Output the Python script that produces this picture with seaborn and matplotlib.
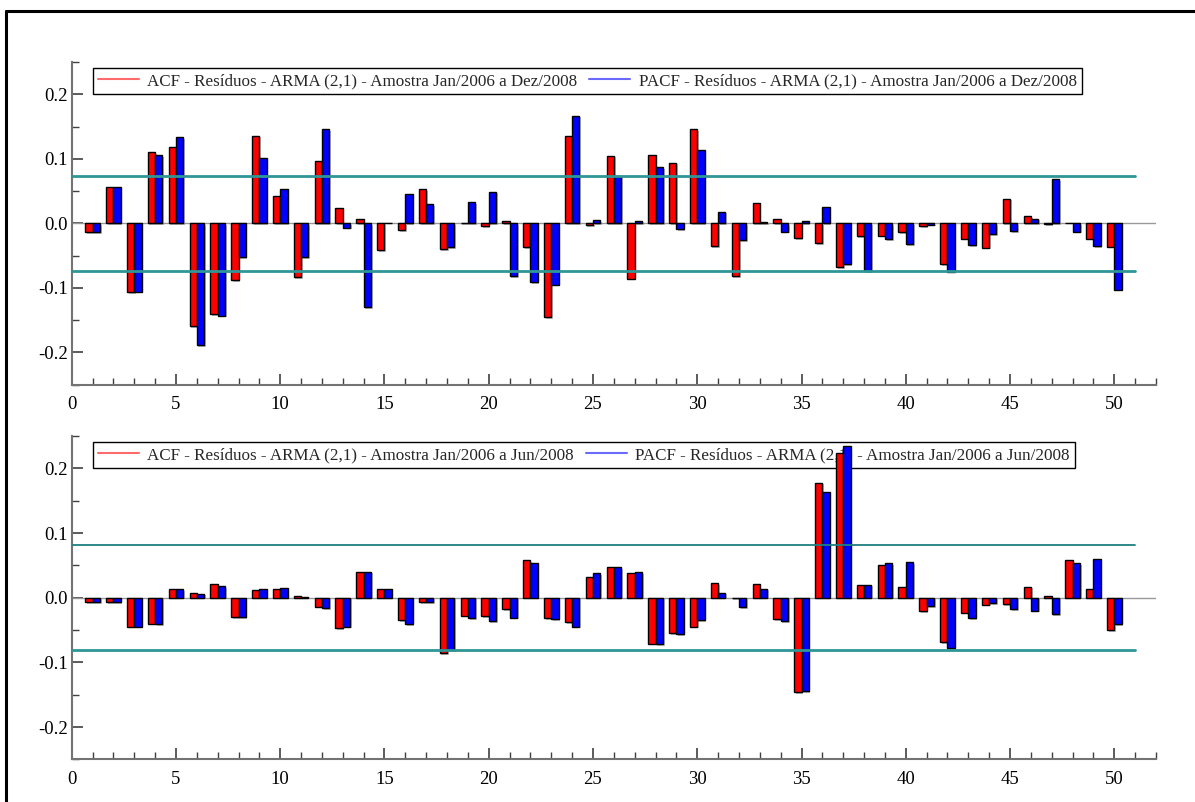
import numpy as np
import pandas as pd
import matplotlib
matplotlib.use("Agg")
import matplotlib.pyplot as plt
import matplotlib.patheffects as pe
from matplotlib.lines import Line2D
from matplotlib.ticker import MultipleLocator, FormatStrFormatter
import seaborn as sns

# Lags 1..50
lags = list(range(1, 51))

# Residual ACF / PACF, sample Jan/2006 - Dez/2008
acf_dez = [-0.014, 0.057, -0.107, 0.110, 0.118, -0.159, -0.141, -0.088, 0.136, 0.042,
           -0.084, 0.096, 0.023, 0.006, -0.042, -0.011, 0.053, -0.040, 0.001, -0.004,
           0.004, -0.037, -0.146, 0.135, -0.003, 0.105, -0.086, 0.106, 0.094, 0.146,
           -0.035, -0.082, 0.031, 0.006, -0.023, -0.031, -0.068, -0.020, -0.019, -0.014,
           -0.004, -0.063, -0.024, -0.038, 0.038, 0.011, -0.001, 0.0005, -0.024, -0.036]
pacf_dez = [-0.014, 0.057, -0.106, 0.106, 0.133, -0.189, -0.143, -0.052, 0.101, 0.053,
            -0.053, 0.146, -0.007, -0.130, 0.0005, 0.045, 0.030, -0.037, 0.033, 0.049,
            -0.082, -0.091, -0.095, 0.167, 0.005, 0.073, 0.004, 0.087, -0.009, 0.113,
            0.018, -0.026, 0.002, -0.013, 0.003, 0.026, -0.063, -0.074, -0.025, -0.032,
            -0.002, -0.075, -0.034, -0.017, -0.012, 0.007, 0.068, -0.013, -0.035, -0.103]

# Residual ACF / PACF, sample Jan/2006 - Jun/2008
acf_jun = [-0.007, -0.007, -0.045, -0.040, 0.014, 0.008, 0.021, -0.030, 0.012, 0.013,
           0.0026, -0.014, -0.047, 0.040, 0.014, -0.035, -0.007, -0.086, -0.028, -0.029,
           -0.018, 0.058, -0.032, -0.038, 0.032, 0.047, 0.038, -0.071, -0.055, -0.045,
           0.022, -0.0005, 0.021, -0.033, -0.146, 0.178, 0.223, 0.019, 0.050, 0.017,
           -0.021, -0.069, -0.023, -0.011, -0.010, 0.017, 0.003, 0.058, 0.013, -0.050]
pacf_jun = [-0.007, -0.007, -0.045, -0.041, 0.013, 0.006, 0.018, -0.030, 0.014, 0.015,
            0.0015, -0.016, -0.045, 0.040, 0.014, -0.041, -0.007, -0.081, -0.032, -0.036,
            -0.031, 0.053, -0.033, -0.045, 0.038, 0.047, 0.039, -0.072, -0.056, -0.035,
            0.008, -0.015, 0.014, -0.036, -0.145, 0.163, 0.235, 0.020, 0.053, 0.055,
            -0.013, -0.078, -0.032, -0.008, -0.018, -0.020, -0.025, 0.053, 0.060, -0.041]

# Confidence bands
band_dez = 0.0735
band_jun = 0.081

labels_dez = ["ACF - Resíduos - ARMA (2,1) - Amostra Jan/2006 a Dez/2008",
              "PACF - Resíduos - ARMA (2,1) - Amostra Jan/2006 a Dez/2008"]
labels_jun = ["ACF - Resíduos - ARMA (2,1) - Amostra Jan/2006 a Jun/2008",
              "PACF - Resíduos - ARMA (2,1) - Amostra Jan/2006 a Jun/2008"]

sns.set_theme(style="white")
plt.rcParams["font.family"] = ["Liberation Serif", "DejaVu Serif"]
plt.rcParams["axes.unicode_minus"] = False

W, H = 1195, 802
fig = plt.figure(figsize=(W / 100, H / 100), dpi=100)
fig.patch.set_facecolor("white")

def px_axes(x0, y_top, x1, y_bot):
    return fig.add_axes([x0 / W, 1 - y_bot / H, (x1 - x0) / W, (y_bot - y_top) / H])

ax_top = px_axes(71.7, 62.0, 1156.0, 384.6)
ax_bot = px_axes(71.7, 436.0, 1156.0, 759.4)

shadow = [pe.SimplePatchShadow(offset=(1.2, -1.2), shadow_rgbFace="0.45", alpha=0.5), pe.Normal()]

def panel(ax, acf, pacf, band, labels, thin_upper):
    df = pd.DataFrame({
        "lag": lags * 2,
        "valor": acf + pacf,
        "serie": ["ACF"] * len(lags) + ["PACF"] * len(lags),
    })
    sns.barplot(data=df, x="lag", y="valor", hue="serie", hue_order=["ACF", "PACF"],
                palette=["#ff0000", "#0000ff"], native_scale=True, width=0.7,
                dodge=True, errorbar=None, edgecolor="black", linewidth=1.0,
                saturation=1, legend=False, ax=ax, zorder=2)
    for p in ax.patches:
        p.set_path_effects(shadow)

    ax.plot([0, 52], [0, 0], color="0.6", lw=1.0, zorder=1)
    if thin_upper:
        ax.plot([0, 51], [band, band], color="#1f7f80", lw=1.3, zorder=4)
    else:
        ax.plot([0, 51], [band, band], color="#2f9696", lw=2.0, zorder=4)
    ax.plot([0, 51], [-band, -band], color="#2f9696", lw=2.0, zorder=4)

    ax.set_xlim(0, 52)
    ax.set_ylim(-0.25, 0.25)
    ax.set_xlabel("")
    ax.set_ylabel("")
    ax.xaxis.set_major_locator(MultipleLocator(5))
    ax.xaxis.set_minor_locator(MultipleLocator(1))
    ax.yaxis.set_major_locator(MultipleLocator(0.1))
    ax.yaxis.set_minor_locator(MultipleLocator(0.05))
    ax.yaxis.set_major_formatter(FormatStrFormatter("%.1f"))
    ax.xaxis.set_major_formatter(FormatStrFormatter("%d"))
    ax.tick_params(axis="both", which="major", direction="in", length=8, width=1.2,
                   color="0.25", labelsize=13.5, labelcolor="black")
    ax.tick_params(axis="both", which="minor", direction="in", length=5, width=1.0,
                   color="0.25")
    ax.tick_params(axis="x", which="both", bottom=True, pad=8)
    ax.tick_params(axis="y", which="both", left=True, pad=3)
    for s in ["top", "right"]:
        ax.spines[s].set_visible(False)
    for s in ["left", "bottom"]:
        ax.spines[s].set_color("0.45")
        ax.spines[s].set_linewidth(1.5)
    ax.set_facecolor("white")

    handles = [Line2D([0], [0], color="#ff6a6a", lw=1.5),
               Line2D([0], [0], color="#6a6aff", lw=1.5)]
    leg = ax.legend(handles, labels, loc="upper left", bbox_to_anchor=(0.0196, 0.981),
                    borderaxespad=0, ncol=2, fontsize=12.25, frameon=True,
                    fancybox=False, framealpha=1, edgecolor="black",
                    handlelength=2.4, handletextpad=0.5, columnspacing=0.7,
                    borderpad=0.3)
    leg.get_frame().set_linewidth(1.0)
    # bars are drawn over the legend box
    leg.set_zorder(1.5)

panel(ax_top, acf_dez, pacf_dez, band_dez, labels_dez, thin_upper=False)
panel(ax_bot, acf_jun, pacf_jun, band_jun, labels_jun, thin_upper=True)

# Outer frame along the top and left edges of the page
fig.add_artist(Line2D([6 / W, 6 / W], [0, 1 - 11 / H], color="black", lw=2.2,
                      transform=fig.transFigure))
fig.add_artist(Line2D([6 / W, 1], [1 - 11 / H, 1 - 11 / H], color="black", lw=2.2,
                      transform=fig.transFigure))

fig.savefig("out.png", dpi=100, facecolor="white")
